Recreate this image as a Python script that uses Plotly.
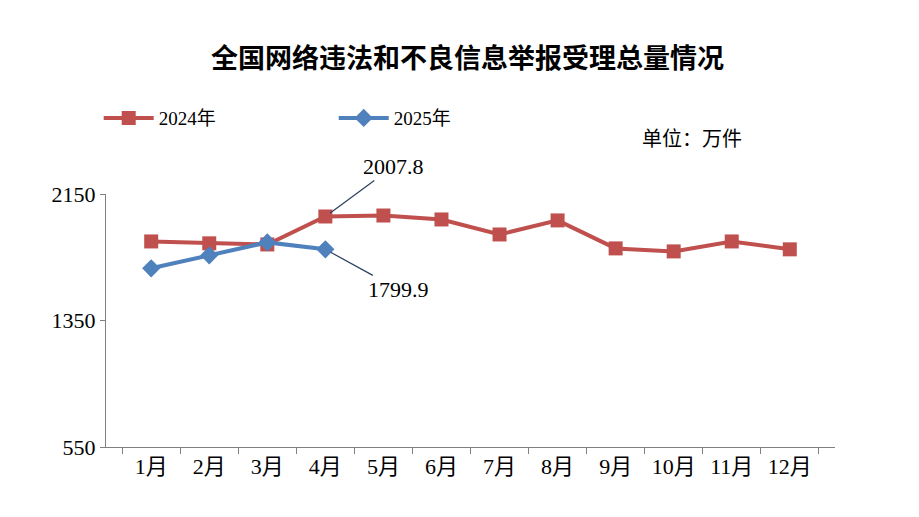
import plotly.graph_objects as go

months = ["1月", "2月", "3月", "4月", "5月", "6月", "7月", "8月", "9月", "10月", "11月", "12月"]
y2024 = [1850, 1838, 1831, 2007.8, 2014, 1989, 1894, 1983, 1806, 1787, 1850, 1800]
y2025 = [1680, 1762, 1844, 1799.9]

serif = "Liberation Serif, Noto Sans CJK SC"

fig = go.Figure()
fig.add_trace(go.Scatter(
    x=months, y=y2024, name="2024年", mode="lines+markers",
    line=dict(color="#C0504D", width=4),
    marker=dict(symbol="square", size=14, color="#C0504D"),
))
fig.add_trace(go.Scatter(
    x=months[:4], y=y2025, name="2025年", mode="lines+markers",
    line=dict(color="#4F81BD", width=4),
    marker=dict(symbol="diamond", size=14, color="#4F81BD"),
))

fig.add_annotation(x="4月", y=2007.8, text="2007.8", showarrow=True, arrowhead=0,
                   arrowwidth=1.2, ax=68, ay=-50, standoff=6,
                   font=dict(family=serif, size=22, color="black"))
fig.add_annotation(x="4月", y=1799.9, text="1799.9", showarrow=True, arrowhead=0,
                   arrowwidth=1.2, ax=73, ay=40, standoff=6,
                   font=dict(family=serif, size=22, color="black"))
fig.add_annotation(xref="paper", yref="paper", x=0.875, y=1.27, showarrow=False,
                   text="单位：万件", font=dict(family=serif, size=20, color="black"))

fig.update_layout(
    width=919, height=517,
    margin=dict(l=98, r=92, t=186, b=78),
    paper_bgcolor="white", plot_bgcolor="white",
    title=dict(text="<b>全国网络违法和不良信息举报受理总量情况</b>", x=0.5, y=0.903,
               xanchor="center", yanchor="middle",
               font=dict(family="Noto Sans CJK SC", size=27, color="black")),
    legend=dict(orientation="h", x=-0.01, y=1.30, xanchor="left", yanchor="middle",
                font=dict(family=serif, size=19, color="black"), itemwidth=50,
                entrywidth=170),
    showlegend=True,
)
fig.update_xaxes(showline=True, linecolor="#808080", ticks="outside", tickson="boundaries",
                 tickcolor="#808080", ticklen=6, showgrid=False,
                 tickfont=dict(family=serif, size=22, color="black"))
fig.update_yaxes(range=[550, 2150], tickvals=[550, 1350, 2150], showline=True,
                 linecolor="#808080", ticks="outside", tickcolor="#808080", showgrid=False,
                 zeroline=False, tickfont=dict(family=serif, size=22, color="black"))

fig.write_html("out.html")
